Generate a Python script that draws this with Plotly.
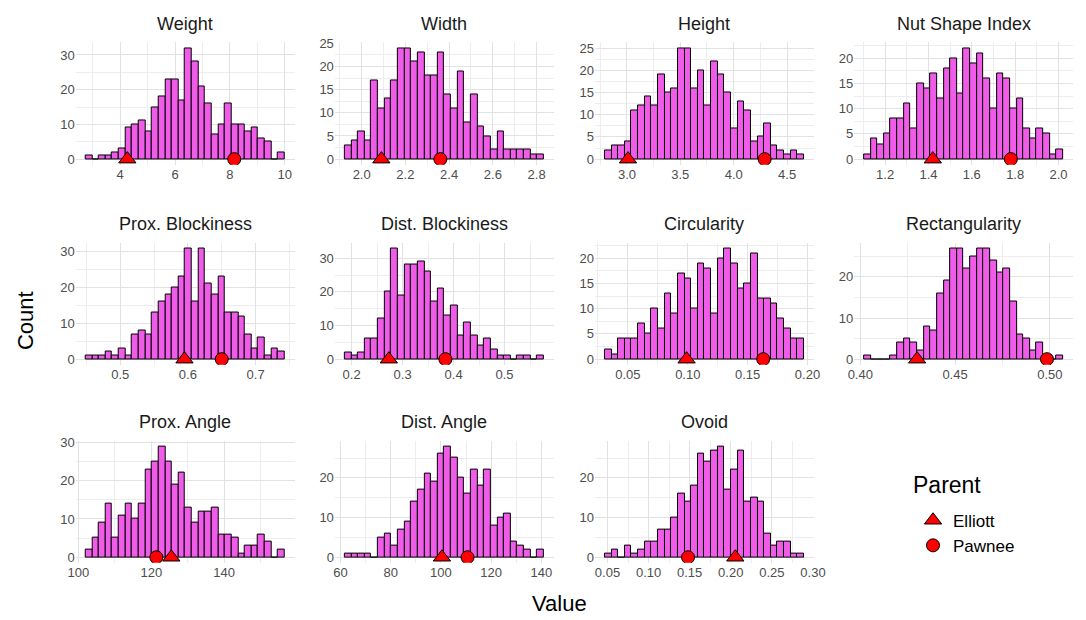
import numpy as np
import plotly.graph_objects as go

# ---- data -------------------------------------------------------------
panel_titles = ["Weight", "Width", "Height", "Nut Shape Index",
                "Prox. Blockiness", "Dist. Blockiness", "Circularity", "Rectangularity",
                "Prox. Angle", "Dist. Angle", "Ovoid"]

weight_counts = [1, 0, 1, 1, 2, 3, 9, 10, 11, 8, 15, 18, 23, 23, 17,
                 32, 28, 21, 16, 7, 10, 16, 10, 10, 8, 9, 6, 5, 0, 2]
width_counts = [3, 4, 6, 4, 17, 11, 13, 17, 24, 24, 21, 23, 18, 18, 23,
                14, 11, 19, 8, 14, 7, 5, 2, 6, 2, 2, 2, 2, 1, 1]
height_counts = [2, 3, 3, 4, 11, 12, 14, 12, 19, 15, 16, 25, 25, 16, 20,
                 12, 22, 19, 15, 7, 13, 11, 4, 5, 8, 3, 2, 1, 2, 1]
nsi_counts = [1, 4, 3, 5, 8, 8, 11, 6, 15, 14, 17, 12, 18, 20, 13,
              22, 19, 21, 16, 10, 17, 16, 10, 12, 6, 4, 6, 5, 1, 2]
prox_block_counts = [1, 1, 1, 2, 1, 3, 1, 7, 8, 7, 13, 16, 18, 20, 23,
                     31, 16, 31, 21, 18, 23, 13, 13, 12, 7, 3, 6, 1, 3, 2]
dist_block_counts = [2, 1, 2, 6, 6, 12, 20, 33, 19, 28, 28, 29, 26, 17, 21,
                     13, 16, 7, 11, 7, 4, 6, 3, 1, 1, 0, 1, 1, 0, 1]
circularity_counts = [2, 1, 4, 4, 4, 7, 5, 10, 6, 13, 9, 17, 16, 10, 19,
                      18, 9, 20, 22, 19, 14, 15, 21, 12, 12, 11, 8, 6, 4, 4]
rectangularity_counts = [1, 0, 0, 0, 1, 4, 5, 4, 2, 8, 7, 16, 19, 27, 27,
                         22, 25, 27, 27, 24, 21, 22, 14, 6, 5, 2, 4, 0, 0, 1]
prox_angle_counts = [2, 5, 9, 14, 5, 11, 14, 10, 14, 23, 25, 29, 25, 19, 22,
                     13, 9, 12, 12, 13, 6, 6, 5, 1, 3, 3, 6, 4, 0, 2]
dist_angle_counts = [1, 1, 1, 1, 0, 5, 6, 3, 7, 9, 14, 17, 21, 19, 26,
                     28, 25, 20, 16, 22, 18, 22, 8, 10, 11, 4, 3, 2, 0, 2]
ovoid_counts = [1, 2, 0, 3, 1, 2, 4, 4, 7, 7, 10, 16, 14, 18, 26,
                24, 27, 28, 17, 22, 27, 14, 15, 14, 6, 3, 4, 4, 1, 1]

all_counts = [weight_counts, width_counts, height_counts, nsi_counts,
              prox_block_counts, dist_block_counts, circularity_counts,
              rectangularity_counts, prox_angle_counts, dist_angle_counts,
              ovoid_counts]

# outer edges of the 30 histogram bins
bin_lo = [2.74, 1.923, 2.794, 1.103, 0.449, 0.1867, 0.0308, 0.402, 102.0, 61.7, 0.0469]
bin_hi = [10.0, 2.833, 4.658, 2.021, 0.743, 0.577, 0.197, 0.507, 156.6, 141.0, 0.289]

# parent cultivar values
elliott = [4.26, 2.09, 3.01, 1.42, 0.595, 0.273, 0.099, 0.430, 125.5, 100.4, 0.2055]
pawnee = [8.16, 2.36, 4.29, 1.78, 0.650, 0.384, 0.163, 0.4985, 121.4, 110.6, 0.148]

# axis tick spacing and label formats
x_tick0 = [0, 0, 0, 0, 0, 0, 0, 0, 0, 0, 0]
x_dtick = [2, 0.2, 0.5, 0.2, 0.1, 0.1, 0.05, 0.05, 20, 20, 0.05]
x_fmt = ["d", ".1f", ".1f", ".1f", ".1f", ".1f", ".2f", ".2f", "d", "d", ".2f"]
y_dtick = [10, 5, 5, 5, 10, 10, 5, 10, 10, 10, 10]

# ---- layout geometry (pixels) ----------------------------------------
W, H = 1086, 620
col_left = [69, 333, 598, 862]
panel_w = 223
row_top = [36, 239, 440]
panel_h = 124

FILL = "#EE5CE8"
GRID = "#E2E2E2"
GRID_MINOR = "#EDEDED"
TICK_COLOR = "#4D4D4D"
FONT = "Liberation Sans, Arial, sans-serif"

fig = go.Figure()
layout = dict(
    width=W, height=H,
    margin=dict(l=0, r=0, t=0, b=0),
    paper_bgcolor="white", plot_bgcolor="white",
    font=dict(family=FONT, color="#1A1A1A"),
    showlegend=True,
    bargap=0,
)
annotations = []

for i, title in enumerate(panel_titles):
    r, c = divmod(i, 4)
    n = i + 1
    xa = "x" if n == 1 else f"x{n}"
    ya = "y" if n == 1 else f"y{n}"
    xkey = "xaxis" if n == 1 else f"xaxis{n}"
    ykey = "yaxis" if n == 1 else f"yaxis{n}"

    counts = np.array(all_counts[i])
    edges = np.linspace(bin_lo[i], bin_hi[i], len(counts) + 1)
    centers = (edges[:-1] + edges[1:]) / 2
    bw = edges[1] - edges[0]

    fig.add_trace(go.Bar(
        x=centers, y=counts, width=bw, xaxis=xa, yaxis=ya,
        marker=dict(color=FILL, line=dict(color="black", width=1)),
        showlegend=False, hoverinfo="skip",
    ))
    fig.add_trace(go.Scatter(
        x=[elliott[i]], y=[0], mode="markers", xaxis=xa, yaxis=ya,
        name="Elliott", legendgroup="Elliott", showlegend=(i == 0),
        marker=dict(symbol="triangle-up", size=15, color="red",
                    line=dict(color="black", width=1)),
    ))
    fig.add_trace(go.Scatter(
        x=[pawnee[i]], y=[0], mode="markers", xaxis=xa, yaxis=ya,
        name="Pawnee", legendgroup="Pawnee", showlegend=(i == 0),
        marker=dict(symbol="circle", size=13, color="red",
                    line=dict(color="black", width=1)),
    ))

    span = bin_hi[i] - bin_lo[i]
    xr = [bin_lo[i] - 0.05 * span, bin_hi[i] + 0.05 * span]
    ymax = counts.max()
    yr = [-0.05 * ymax, 1.05 * ymax]

    x0 = col_left[c] / W
    x1 = (col_left[c] + panel_w) / W
    y1 = 1 - row_top[r] / H
    y0 = 1 - (row_top[r] + panel_h) / H

    layout[xkey] = dict(
        domain=[x0, x1], range=xr, anchor=ya,
        tick0=x_tick0[i], dtick=x_dtick[i], tickformat=x_fmt[i],
        showgrid=True, gridcolor=GRID, gridwidth=1.4, zeroline=False,
        showline=False, ticks="",
        tickfont=dict(size=13, color=TICK_COLOR, family=FONT),
        minor=dict(tick0=x_tick0[i], dtick=x_dtick[i] / 2, showgrid=True,
                   gridcolor=GRID_MINOR, gridwidth=0.8),
    )
    layout[ykey] = dict(
        domain=[y0, y1], range=yr, anchor=xa,
        tick0=0, dtick=y_dtick[i],
        showgrid=True, gridcolor=GRID, gridwidth=1.4, zeroline=False,
        showline=False, ticks="",
        tickfont=dict(size=13, color=TICK_COLOR, family=FONT),
        minor=dict(tick0=0, dtick=y_dtick[i] / 2, showgrid=True,
                   gridcolor=GRID_MINOR, gridwidth=0.8),
    )
    annotations.append(dict(
        text=title, xref="paper", yref="paper",
        x=(x0 + x1) / 2, y=1 - (row_top[r] - 19) / H,
        xanchor="center", yanchor="middle", showarrow=False,
        font=dict(size=18, color="#1A1A1A", family=FONT),
    ))

annotations.append(dict(
    text="Count", xref="paper", yref="paper", x=18 / W, y=1 - 318 / H,
    textangle=-90, showarrow=False, xanchor="center", yanchor="middle",
    font=dict(size=22, color="black", family=FONT),
))
annotations.append(dict(
    text="Value", xref="paper", yref="paper", x=562 / W, y=1 - 605 / H,
    showarrow=False, xanchor="center", yanchor="middle",
    font=dict(size=22, color="black", family=FONT),
))
# legend heading
annotations.append(dict(
    text="Parent", xref="paper", yref="paper", x=920 / W, y=1 - 485 / H,
    showarrow=False, xanchor="left", yanchor="middle",
    font=dict(size=23, color="black", family=FONT),
))

layout["annotations"] = annotations
layout["legend"] = dict(
    x=922 / W, y=1 - 503 / H, xanchor="left", yanchor="top",
    font=dict(size=17, color="black", family=FONT),
    bgcolor="rgba(0,0,0,0)", tracegroupgap=0,
)

fig.update_layout(**layout)
fig.write_html("out.html")
